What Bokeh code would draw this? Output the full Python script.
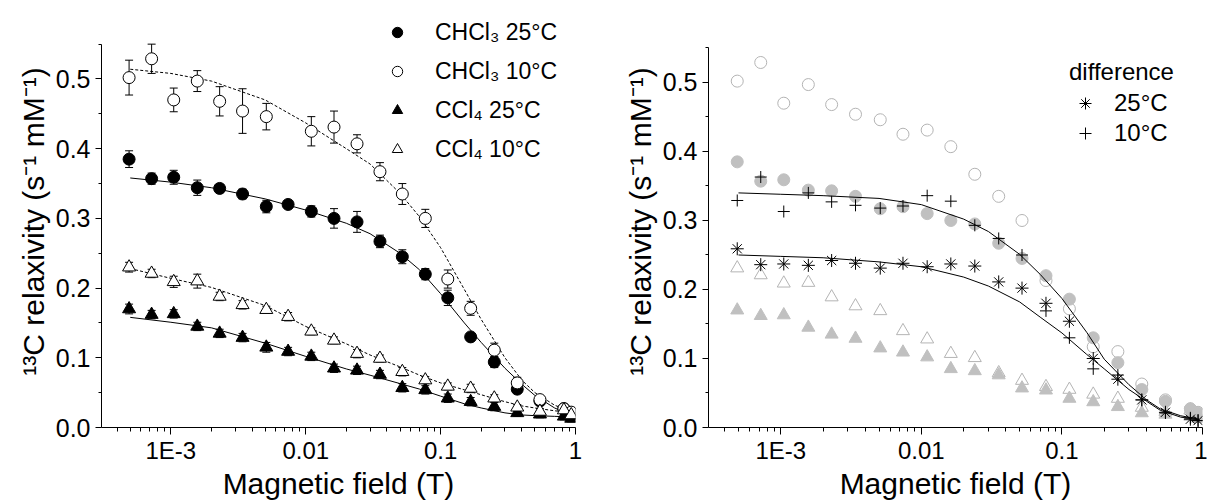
from bokeh.plotting import figure
from bokeh.models import (ColumnDataSource, Whisker, TeeHead, Legend, LegendItem,
                          FixedTicker, CustomJSTickFormatter, PrintfTickFormatter,
                          Range1d)
from bokeh.layouts import row
from bokeh.embed import file_html
from bokeh.resources import INLINE

FONT = "Liberation Sans"

# ---------------- data (magnetic field in T, relaxivity in s^-1 mM^-1) ----------------
field_T = [0.00049, 0.00072, 0.00105, 0.00157, 0.0023, 0.0034, 0.0051, 0.0074, 0.011,
           0.0162, 0.024, 0.0355, 0.052, 0.077, 0.113, 0.167, 0.25, 0.37, 0.545, 0.82, 0.93]

chcl3_25 = [0.385, 0.357, 0.359, 0.344, 0.343, 0.335, 0.317, 0.320, 0.310, 0.300, 0.295,
            0.267, 0.245, 0.220, 0.186, 0.130, 0.094, 0.055, 0.038, 0.027, 0.021]
chcl3_25_err = [0.012, 0.008, 0.010, 0.011, 0.006, 0.007, 0.009, 0.005, 0.008, 0.014, 0.015,
                0.009, 0.010, 0.008, 0.011, 0.0, 0.008, 0.005, 0.004, 0.004, 0.004]

chcl3_10_field = [0.00049, 0.00072, 0.00105, 0.00157, 0.0023, 0.0034, 0.0051, 0.011, 0.0162,
                  0.024, 0.0355, 0.052, 0.077, 0.113, 0.167, 0.25, 0.37, 0.545, 0.82, 0.93]
chcl3_10 = [0.502, 0.529, 0.470, 0.497, 0.468, 0.454, 0.446, 0.425, 0.431, 0.407, 0.367,
            0.335, 0.300, 0.213, 0.171, 0.111, 0.064, 0.040, 0.027, 0.022]
chcl3_10_err = [0.025, 0.021, 0.017, 0.015, 0.021, 0.032, 0.019, 0.021, 0.023, 0.013, 0.013,
                0.015, 0.013, 0.013, 0.010, 0.010, 0.008, 0.005, 0.005, 0.005]

ccl4_25 = [0.170, 0.162, 0.163, 0.145, 0.135, 0.129, 0.115, 0.109, 0.102, 0.085, 0.082,
           0.076, 0.057, 0.054, 0.042, 0.037, 0.030, 0.021, 0.019, 0.016, 0.013]
ccl4_25_err = [0.007, 0.006, 0.006, 0.006, 0.006, 0.006, 0.007, 0.006, 0.006, 0.006, 0.006,
               0.006, 0.006, 0.006, 0.006, 0.006, 0.006, 0.005, 0.005, 0.005, 0.005]

ccl4_10 = [0.230, 0.221, 0.209, 0.210, 0.188, 0.176, 0.169, 0.159, 0.138, 0.125, 0.106,
           0.099, 0.080, 0.068, 0.059, 0.056, 0.042, 0.029, 0.023, 0.025, 0.018]
ccl4_10_err = [0.007, 0.006, 0.008, 0.010, 0.006, 0.006, 0.005, 0.006, 0.005, 0.005, 0.006,
               0.005, 0.006, 0.005, 0.005, 0.006, 0.005, 0.004, 0.004, 0.004, 0.004]

# right panel: reference data as re-plotted in grey
chcl3_10_right = [0.502, 0.529, 0.470, 0.497, 0.468, 0.454, 0.446, 0.425, 0.431, 0.407, 0.367,
                  0.335, 0.300, 0.213, 0.172, 0.117, 0.110, 0.063, 0.040, 0.027, 0.022]
ccl4_10_right = [0.231, 0.221, 0.209, 0.210, 0.189, 0.176, 0.169, 0.140, 0.128, 0.107, 0.101,
                 0.079, 0.068, 0.059, 0.055, 0.048, 0.042, 0.029, 0.023, 0.025, 0.018]

diff_25 = [0.259, 0.236, 0.237, 0.235, 0.242, 0.238, 0.231, 0.238, 0.233, 0.237, 0.234,
           0.211, 0.202, 0.180, 0.154, 0.100, 0.070, 0.040, 0.022, 0.012, 0.010]
diff_10 = [0.329, 0.363, 0.313, 0.340, 0.327, 0.322, 0.318, 0.321, 0.336, 0.328, 0.293,
           0.274, 0.250, 0.169, 0.130, 0.085, 0.076, 0.040, 0.021, 0.014, 0.010]

# fitted curves
fit_field = [0.0005, 0.001, 0.002, 0.005, 0.01, 0.02, 0.03, 0.05, 0.07, 0.1, 0.15, 0.2,
             0.3, 0.4, 0.5, 0.7, 0.95]
fit_chcl3_25 = [0.358, 0.352, 0.344, 0.328, 0.312, 0.293, 0.278, 0.250, 0.226, 0.192, 0.150,
                0.122, 0.085, 0.062, 0.046, 0.028, 0.017]
fit_chcl3_10 = [0.514, 0.508, 0.497, 0.470, 0.437, 0.400, 0.378, 0.336, 0.302, 0.258, 0.198,
                0.155, 0.100, 0.068, 0.050, 0.032, 0.022]
fit_ccl4_25 = [0.158, 0.151, 0.143, 0.121, 0.102, 0.084, 0.075, 0.063, 0.055, 0.045, 0.034,
               0.028, 0.021, 0.018, 0.017, 0.016, 0.015]
fit_ccl4_10 = [0.228, 0.214, 0.201, 0.175, 0.145, 0.120, 0.104, 0.087, 0.075, 0.064, 0.054,
               0.047, 0.037, 0.031, 0.028, 0.024, 0.021]
fit_diff_10 = [0.340, 0.338, 0.336, 0.332, 0.323, 0.302, 0.284, 0.251, 0.222, 0.187, 0.138,
               0.099, 0.062, 0.040, 0.027, 0.017, 0.012]
fit_diff_25 = [0.250, 0.248, 0.246, 0.240, 0.233, 0.218, 0.205, 0.182, 0.160, 0.137, 0.106,
               0.085, 0.055, 0.038, 0.025, 0.015, 0.011]

x_major = [0.001, 0.01, 0.1, 1.0]
x_tick_labels = ["1E-3", "0.01", "0.1", "1"]
y_major = [0.0, 0.1, 0.2, 0.3, 0.4, 0.5]
y_minor = [0.05, 0.15, 0.25, 0.35, 0.45, 0.55]

legend_left = ["CHCl\u2083 25\u00b0C", "CHCl\u2083 10\u00b0C", "CCl\u2084 25\u00b0C", "CCl\u2084 10\u00b0C"]
legend_right_title = "difference"
legend_right = ["25\u00b0C", "10\u00b0C"]
x_label = "Magnetic field (T)"
y_label = "\u00b9\u00b3C relaxivity (s\u207b\u00b9 mM\u207b\u00b9)"

GREY = "#c0c0c0"
GREY_LINE = "#b4b4b4"

x_minor = [k * 10.0 ** e for e in (-4, -3, -2, -1) for k in range(2, 10) if k * 10.0 ** e > 3.1e-4]
label_map = {str(i): t for i, t in zip((-3, -2, -1, 0), x_tick_labels)}

# both frames run from y=15 to y=427 (the row aligns them); axes stop at 0.55
TOP, BOTTOM = 15, 76


def base_fig(width, bl, br, y_end):
    p = figure(width=width, height=503, x_axis_type="log",
               x_range=Range1d(3.06e-4, 1.0), y_range=Range1d(0.0, y_end),
               output_backend="svg", toolbar_location=None,
               min_border_left=bl, min_border_right=br,
               min_border_top=TOP, min_border_bottom=BOTTOM)
    p.outline_line_color = None
    p.xgrid.visible = False
    p.ygrid.visible = False
    xa = p.xaxis[0]
    xa.ticker = FixedTicker(ticks=x_major, minor_ticks=x_minor)
    xa.formatter = CustomJSTickFormatter(
        args=dict(m=label_map),
        code="const e = Math.round(Math.log10(tick)); const k = String(e); "
             "return (k in m) ? m[k] : String(tick);")
    xa.major_tick_in = 0
    xa.major_tick_out = 7
    xa.minor_tick_in = 0
    xa.minor_tick_out = 4
    xa.major_label_standoff = 2
    xa.major_label_text_font = FONT
    xa.major_label_text_font_size = "24px"
    xa.major_label_text_color = "black"
    xa.axis_line_color = "black"
    xa.major_tick_line_color = "black"
    xa.minor_tick_line_color = "black"
    xa.axis_label = x_label
    xa.axis_label_text_font = FONT
    xa.axis_label_text_font_size = "30px"
    xa.axis_label_text_font_style = "normal"
    xa.axis_label_text_color = "black"
    xa.axis_label_standoff = 0

    ya = p.yaxis[0]
    ya.ticker = FixedTicker(ticks=y_major, minor_ticks=y_minor)
    ya.formatter = PrintfTickFormatter(format="%.1f")
    ya.bounds = (0.0, 0.55)
    ya.major_tick_in = 0
    ya.major_tick_out = 6
    ya.minor_tick_in = 0
    ya.minor_tick_out = 3
    ya.major_label_standoff = 5
    ya.major_label_text_font = FONT
    ya.major_label_text_font_size = "25px"
    ya.major_label_text_color = "black"
    ya.axis_line_color = "black"
    ya.major_tick_line_color = "black"
    ya.minor_tick_line_color = "black"
    ya.axis_label = y_label
    ya.axis_label_text_font = FONT
    ya.axis_label_text_font_size = "30px"
    ya.axis_label_text_font_style = "normal"
    ya.axis_label_text_color = "black"
    ya.axis_label_standoff = 3
    return p


def whisker(p, xs, ys, errs):
    xx, up, lo = [], [], []
    for x, y, e in zip(xs, ys, errs):
        if e > 0:
            xx.append(x)
            up.append(y + e)
            lo.append(y - e)
    src = ColumnDataSource(dict(x=xx, upper=up, lower=lo))
    w = Whisker(base="x", upper="upper", lower="lower", source=src, dimension="height",
                line_color="black", line_width=1, level="underlay",
                upper_head=TeeHead(size=8, line_color="black", line_width=1),
                lower_head=TeeHead(size=8, line_color="black", line_width=1))
    p.add_layout(w)


# ---------------- left panel ----------------
p1 = base_fig(608, 101, 33, 0.5911)

whisker(p1, field_T, chcl3_25, chcl3_25_err)
whisker(p1, chcl3_10_field, chcl3_10, chcl3_10_err)
whisker(p1, field_T, ccl4_25, ccl4_25_err)
whisker(p1, field_T, ccl4_10, ccl4_10_err)

p1.line(fit_field, fit_chcl3_25, line_color="black", line_width=1)
p1.line(fit_field, fit_chcl3_10, line_color="black", line_width=1, line_dash="3 2")
p1.line(fit_field, fit_ccl4_25, line_color="black", line_width=1)
p1.line(fit_field, fit_ccl4_10, line_color="black", line_width=1, line_dash="3 2")

r_fc = p1.scatter(field_T, chcl3_25, marker="circle", size=12,
                  fill_color="black", line_color="black")
r_oc = p1.scatter(chcl3_10_field, chcl3_10, marker="circle", size=12,
                  fill_color="white", line_color="black", line_width=1)
r_ft = p1.scatter(field_T, ccl4_25, marker="triangle", size=13,
                  fill_color="black", line_color="black")
r_ot = p1.scatter(field_T, ccl4_10, marker="triangle", size=13,
                  fill_color="white", line_color="black", line_width=1)

leg1 = Legend(items=[LegendItem(label=legend_left[0], renderers=[r_fc]),
                     LegendItem(label=legend_left[1], renderers=[r_oc]),
                     LegendItem(label=legend_left[2], renderers=[r_ft]),
                     LegendItem(label=legend_left[3], renderers=[r_ot])],
              location=(283, 263), glyph_width=26, glyph_height=30, label_height=30,
              label_standoff=25, spacing=9, padding=0, margin=0,
              border_line_color=None, background_fill_alpha=0,
              label_text_font=FONT, label_text_font_size="23px", label_text_color="black")
p1.add_layout(leg1)

# ---------------- right panel ----------------
p2 = base_fig(599, 100, 5, 0.5971)

p2.scatter(field_T, chcl3_10_right, marker="circle", size=12,
           fill_color=None, line_color=GREY_LINE, line_width=1)
p2.scatter(field_T, ccl4_10_right, marker="triangle", size=13,
           fill_color=None, line_color=GREY_LINE, line_width=1)
p2.scatter(field_T, chcl3_25, marker="circle", size=12,
           fill_color=GREY, line_color=GREY)
p2.scatter(field_T, ccl4_25, marker="triangle", size=13,
           fill_color=GREY, line_color=GREY)

p2.line(fit_field, fit_diff_10, line_color="black", line_width=1)
p2.line(fit_field, fit_diff_25, line_color="black", line_width=1)

r_ast = p2.scatter(field_T, diff_25, marker="asterisk", size=13,
                   line_color="black", line_width=1)
r_plus = p2.scatter(field_T, diff_10, marker="cross", size=12,
                    line_color="black", line_width=1)

leg2 = Legend(title=legend_right_title,
              items=[LegendItem(label=legend_right[0], renderers=[r_ast]),
                     LegendItem(label=legend_right[1], renderers=[r_plus])],
              location=(361, 279), glyph_width=32, glyph_height=30, label_height=30,
              label_standoff=13, spacing=0, padding=0, margin=0,
              title_standoff=2, title_text_font=FONT, title_text_font_size="24px",
              title_text_font_style="normal", title_text_color="black",
              border_line_color=None, background_fill_alpha=0,
              label_text_font=FONT, label_text_font_size="24px", label_text_color="black")
p2.add_layout(leg2)

layout = row(p1, p2)
open("out.html", "w").write(file_html(layout, INLINE))
